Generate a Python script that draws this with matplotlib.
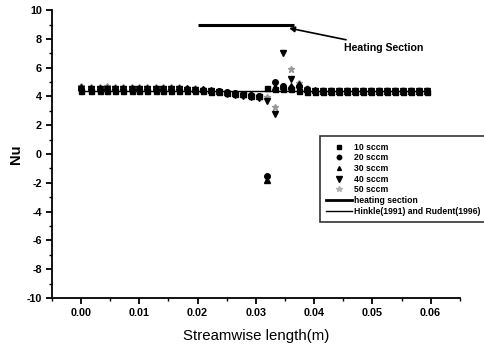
import numpy as np
import matplotlib.pyplot as plt
from matplotlib.lines import Line2D

plt.rcParams['font.family'] = ['Liberation Sans', 'DejaVu Sans']
plt.rcParams['axes.unicode_minus'] = False

# streamwise stations (m)
x_pos = [0.0000, 0.0018, 0.0032, 0.0045, 0.0059, 0.0073, 0.0087, 0.0100, 0.0114,
         0.0128, 0.0141, 0.0155, 0.0169, 0.0182, 0.0196, 0.0210, 0.0224, 0.0237,
         0.0251, 0.0265, 0.0278, 0.0292, 0.0306, 0.0319, 0.0333, 0.0347, 0.0361,
         0.0374, 0.0388, 0.0402, 0.0415, 0.0429, 0.0443, 0.0456, 0.0470, 0.0484,
         0.0498, 0.0511, 0.0525, 0.0539, 0.0552, 0.0566, 0.0580, 0.0593]

# local Nusselt number for each flow rate
nu_10 = [4.40, 4.40, 4.40, 4.40, 4.40, 4.40, 4.40, 4.40, 4.40, 4.40, 4.40, 4.40,
         4.40, 4.40, 4.40, 4.38, 4.33, 4.30, 4.25, 4.20, 4.15, 4.05, 4.00, 4.60,
         4.55, 4.52, 4.50, 4.40, 4.30, 4.30, 4.30, 4.30, 4.30, 4.30, 4.30, 4.30,
         4.30, 4.30, 4.30, 4.30, 4.30, 4.30, 4.30, 4.30]
nu_20 = [4.50, 4.52, 4.52, 4.50, 4.52, 4.50, 4.50, 4.52, 4.50, 4.50, 4.50, 4.50,
         4.50, 4.50, 4.48, 4.45, 4.40, 4.35, 4.28, 4.22, 4.15, 4.08, 4.00, -1.55,
         5.00, 4.70, 4.62, 4.70, 4.50, 4.38, 4.35, 4.35, 4.35, 4.35, 4.35, 4.35,
         4.35, 4.35, 4.35, 4.35, 4.35, 4.35, 4.35, 4.35]
nu_30 = [4.65, 4.62, 4.60, 4.60, 4.62, 4.60, 4.60, 4.60, 4.60, 4.60, 4.60, 4.58,
         4.60, 4.58, 4.55, 4.50, 4.45, 4.38, 4.30, 4.25, 4.18, 4.10, 4.02, -1.80,
         4.65, 4.75, 4.70, 4.85, 4.55, 4.42, 4.40, 4.40, 4.40, 4.40, 4.40, 4.40,
         4.40, 4.40, 4.40, 4.40, 4.40, 4.40, 4.40, 4.40]
nu_40 = [4.50, 4.50, 4.52, 4.50, 4.50, 4.50, 4.50, 4.50, 4.50, 4.50, 4.50, 4.50,
         4.50, 4.48, 4.45, 4.40, 4.35, 4.28, 4.20, 4.12, 4.05, 3.98, 3.90, 3.70,
         2.80, 7.00, 5.20, 4.50, 4.40, 4.35, 4.35, 4.35, 4.35, 4.35, 4.35, 4.35,
         4.35, 4.35, 4.35, 4.35, 4.35, 4.35, 4.35, 4.35]
nu_50 = [4.70, 4.68, 4.68, 4.70, 4.68, 4.68, 4.66, 4.66, 4.66, 4.66, 4.65, 4.65,
         4.65, 4.62, 4.60, 4.55, 4.48, 4.40, 4.32, 4.25, 4.18, 4.10, 4.02, 3.95,
         3.30, 4.60, 5.90, 4.95, 4.60, 4.45, 4.45, 4.45, 4.45, 4.45, 4.45, 4.45,
         4.45, 4.45, 4.45, 4.45, 4.45, 4.45, 4.45, 4.45]

heat_x = [0.020, 0.0365]
heat_nu = [9.0, 9.0]
ref_x = [0.0, 0.059]
ref_nu = [4.36, 4.36]

fig = plt.figure(figsize=(4.84, 3.49), dpi=100)
ax = fig.add_axes([0.107, 0.146, 0.843, 0.825])

ax.plot(ref_x, ref_nu, color='black', lw=1.0, zorder=2)
ax.plot(heat_x, heat_nu, color='black', lw=2.2, solid_capstyle='butt', zorder=2)

ms = 4.0
ax.plot(x_pos, nu_50, ls='none', marker='*', ms=5.0, color='0.6', zorder=3)
ax.plot(x_pos, nu_30, ls='none', marker='^', ms=ms, color='black', zorder=3)
ax.plot(x_pos, nu_20, ls='none', marker='o', ms=ms, color='black', zorder=3)
ax.plot(x_pos, nu_40, ls='none', marker='v', ms=ms + 0.8, color='black', zorder=3)
ax.plot(x_pos, nu_10, ls='none', marker='s', ms=ms - 0.4, color='black', zorder=4)

ax.annotate('Heating Section', xy=(0.0357, 8.75), xytext=(0.0452, 7.4),
            fontsize=7.6, fontweight='bold', va='center', ha='left',
            arrowprops=dict(arrowstyle='-|>', color='black', lw=1.2,
                            mutation_scale=8, shrinkA=0, shrinkB=0))

ax.set_xlim(-0.005, 0.065)
ax.set_ylim(-10, 10)
ax.set_xticks([0.00, 0.01, 0.02, 0.03, 0.04, 0.05, 0.06])
ax.set_xticks(np.arange(-0.005, 0.066, 0.005), minor=True)
ax.set_yticks(np.arange(-10, 11, 2))
ax.set_yticks(np.arange(-10, 11, 1), minor=True)
ax.set_xticklabels(['0.00', '0.01', '0.02', '0.03', '0.04', '0.05', '0.06'])
ax.set_yticklabels([str(v) for v in range(-10, 11, 2)])

for side in ('top', 'right'):
    ax.spines[side].set_visible(False)
for side in ('left', 'bottom'):
    ax.spines[side].set_linewidth(1.3)

ax.tick_params(which='major', direction='out', length=4, width=1.3,
               labelsize=7.8, pad=3)
ax.tick_params(which='minor', direction='out', length=2.5, width=1.0)
for lbl in ax.get_xticklabels() + ax.get_yticklabels():
    lbl.set_fontweight('bold')

ax.set_xlabel('Streamwise length(m)', fontsize=10.8, labelpad=8)
ax.set_ylabel('Nu', fontsize=10.5, fontweight='bold', labelpad=3)

handles = [
    Line2D([], [], ls='none', marker='s', ms=3.2, color='black'),
    Line2D([], [], ls='none', marker='o', ms=3.2, color='black'),
    Line2D([], [], ls='none', marker='^', ms=2.8, color='black'),
    Line2D([], [], ls='none', marker='v', ms=3.8, color='black'),
    Line2D([], [], ls='none', marker='*', ms=3.8, color='0.7'),
    Line2D([], [], color='black', lw=2.0),
    Line2D([], [], color='black', lw=1.0),
]
labels = ['10 sccm', '20 sccm', '30 sccm', '40 sccm', '50 sccm',
          'heating section', 'Hinkle(1991) and Rudent(1996)']
leg = fig.legend(handles, labels, loc='upper left', mode='expand',
                 bbox_to_anchor=(0.661, 0.36, 0.37, 0.25), fontsize=6.2,
                 frameon=True, fancybox=False, edgecolor='black',
                 handlelength=3.0, handletextpad=0.15, labelspacing=0.2,
                 borderpad=0.75, borderaxespad=0)
leg.get_frame().set_linewidth(1.2)
for t in leg.get_texts():
    t.set_fontweight('bold')

fig.savefig('out.png', dpi=100)
